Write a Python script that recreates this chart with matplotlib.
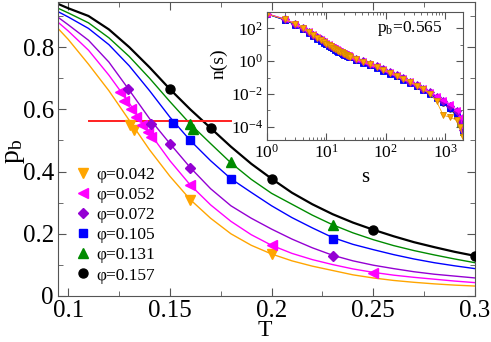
import matplotlib
matplotlib.use('Agg')
import matplotlib.pyplot as plt
from matplotlib.ticker import FixedLocator, LogLocator, LogFormatterMathtext, NullFormatter

plt.rcParams['font.family'] = ['Liberation Serif', 'DejaVu Serif']
plt.rcParams['mathtext.fontset'] = 'custom'
plt.rcParams['mathtext.rm'] = 'Liberation Serif'
plt.rcParams['mathtext.it'] = 'Liberation Serif:italic'
plt.rcParams['axes.unicode_minus'] = False

# ---- main panel: p_b vs T ----
phi_labels = ['φ=0.042', 'φ=0.052', 'φ=0.072', 'φ=0.105', 'φ=0.131', 'φ=0.157']
colors = ['#ffa500', '#ff00ff', '#9400d3', '#0000ff', '#008b00', '#000000']
markers = ['v', '<', 'D', 's', '^', 'o']
msizes = [7, 7, 5, 5.5, 6.5, 6.5]

# fitted curves, read at these temperatures
T_fit = [0.095, 0.10, 0.11, 0.12, 0.13, 0.14, 0.15, 0.16, 0.17, 0.18, 0.19,
         0.20, 0.21, 0.22, 0.23, 0.24, 0.25, 0.26, 0.27, 0.28, 0.29, 0.30]
fit_042 = [0.86, 0.825, 0.745, 0.66, 0.565, 0.47, 0.385, 0.31, 0.25, 0.20, 0.163,
           0.135, 0.113, 0.096, 0.082, 0.068, 0.058, 0.050, 0.044, 0.039, 0.035, 0.032]
fit_052 = [0.88, 0.852, 0.79, 0.71, 0.62, 0.525, 0.435, 0.357, 0.293, 0.24, 0.197,
           0.163, 0.137, 0.117, 0.101, 0.087, 0.076, 0.067, 0.060, 0.054, 0.048, 0.043]
fit_072 = [0.896, 0.872, 0.822, 0.752, 0.662, 0.57, 0.49, 0.413, 0.345, 0.29, 0.25,
           0.215, 0.183, 0.155, 0.131, 0.113, 0.099, 0.088, 0.078, 0.07, 0.064, 0.058]
fit_105 = [0.914, 0.897, 0.86, 0.808, 0.74, 0.66, 0.575, 0.50, 0.435, 0.377, 0.333,
           0.29, 0.252, 0.219, 0.188, 0.166, 0.149, 0.133, 0.119, 0.107, 0.097, 0.088]
fit_131 = [0.925, 0.91, 0.878, 0.83, 0.77, 0.70, 0.625, 0.553, 0.49, 0.428, 0.375,
           0.33, 0.295, 0.26, 0.229, 0.203, 0.181, 0.162, 0.146, 0.132, 0.119, 0.107]
fit_157 = [0.939, 0.925, 0.90, 0.857, 0.80, 0.735, 0.665, 0.60, 0.54, 0.48, 0.425,
           0.377, 0.332, 0.295, 0.263, 0.236, 0.213, 0.192, 0.173, 0.157, 0.142, 0.129]
fits = [fit_042, fit_052, fit_072, fit_105, fit_131, fit_157]

# simulation points
T_042 = [0.1305, 0.1325, 0.16, 0.20]
pb_042 = [0.55, 0.535, 0.31, 0.135]
T_052 = [0.1255, 0.1275, 0.131, 0.1335, 0.1365, 0.139, 0.1405, 0.16, 0.20, 0.25]
pb_052 = [0.655, 0.628, 0.60, 0.575, 0.55, 0.528, 0.51, 0.357, 0.163, 0.074]
T_072 = [0.1295, 0.1405, 0.1503, 0.16, 0.23]
pb_072 = [0.665, 0.552, 0.49, 0.41, 0.128]
T_105 = [0.1515, 0.16, 0.18, 0.23]
pb_105 = [0.555, 0.50, 0.377, 0.184]
T_131 = [0.16, 0.1615, 0.18, 0.23]
pb_131 = [0.552, 0.537, 0.432, 0.229]
T_157 = [0.15, 0.17, 0.20, 0.25, 0.30]
pb_157 = [0.665, 0.541, 0.377, 0.213, 0.129]
T_pts = [T_042, T_052, T_072, T_105, T_131, T_157]
pb_pts = [pb_042, pb_052, pb_072, pb_105, pb_131, pb_157]

pc_T = [0.11, 0.18]
pc_value = 0.563

x_ticks = [0.1, 0.15, 0.2, 0.25, 0.3]
x_ticklabels = ['0.1', '0.15', '0.2', '0.25', '0.3']
y_ticks = [0, 0.2, 0.4, 0.6, 0.8]
y_ticklabels = ['0', '0.2', '0.4', '0.6', '0.8']

# ---- inset: n(s) at p_b = 0.565 ----
s_vals = [1, 2, 3, 4, 5, 6, 7, 8, 9, 10, 11, 12, 13, 14, 15, 16, 17, 18, 19, 20,
          21, 22, 23, 24, 25, 32, 42, 54, 70, 91, 118, 152, 197, 255, 331, 428,
          555, 718, 930, 1205, 1560, 1800, 2000]
logn_042 = [2.88, 2.55, 2.26, 2.0, 1.78, 1.59, 1.43, 1.30, 1.18, 1.07, 0.98, 0.90,
            0.83, 0.76, 0.70, 0.64, 0.59, 0.54, 0.49, 0.45, 0.41, 0.37, 0.34, 0.31,
            0.28, 0.12, -0.03, -0.19, -0.35, -0.52, -0.70, -0.88, -1.07, -1.27,
            -1.48, -1.70, -1.97, -2.45, -3.3, -3.4, -3.6, -4.0, -4.6]
logn_052 = [2.9, 2.58, 2.29, 2.04, 1.82, 1.63, 1.47, 1.34, 1.22, 1.11, 1.02, 0.94,
            0.87, 0.80, 0.74, 0.68, 0.63, 0.58, 0.53, 0.49, 0.45, 0.41, 0.38, 0.35,
            0.32, 0.16, 0.01, -0.15, -0.31, -0.48, -0.66, -0.84, -1.03, -1.23,
            -1.44, -1.65, -1.88, -2.10, -2.35, -2.60, -2.95, -3.4, -4.0]
logn_072 = [2.89, 2.57, 2.28, 2.03, 1.81, 1.62, 1.46, 1.33, 1.21, 1.10, 1.01, 0.93,
            0.86, 0.79, 0.73, 0.67, 0.62, 0.57, 0.52, 0.48, 0.44, 0.40, 0.37, 0.34,
            0.31, 0.15, 0.0, -0.16, -0.32, -0.49, -0.67, -0.85, -1.04, -1.24,
            -1.45, -1.67, -1.90, -2.15, -2.40, -2.70, -3.05, -3.6, -4.2]
logn_105 = [2.87, 2.50, 2.21, 1.95, 1.73, 1.54, 1.38, 1.25, 1.13, 1.02, 0.93, 0.85,
            0.78, 0.71, 0.65, 0.59, 0.54, 0.49, 0.44, 0.40, 0.36, 0.32, 0.29, 0.26,
            0.23, 0.07, -0.08, -0.24, -0.40, -0.57, -0.75, -0.93, -1.12, -1.32,
            -1.53, -1.75, -1.97, -2.22, -2.50, -2.82, -3.25, -3.65, -4.2]
logn_131 = [2.88, 2.53, 2.24, 1.98, 1.76, 1.57, 1.41, 1.28, 1.16, 1.05, 0.96, 0.88,
            0.81, 0.74, 0.68, 0.62, 0.57, 0.52, 0.47, 0.43, 0.39, 0.35, 0.32, 0.29,
            0.26, 0.10, -0.05, -0.21, -0.37, -0.54, -0.72, -0.90, -1.09, -1.29,
            -1.50, -1.72, -1.95, -2.20, -2.50, -2.85, -3.30, -3.75, -4.3]
logn_157 = [2.88, 2.52, 2.23, 1.97, 1.75, 1.56, 1.40, 1.27, 1.15, 1.04, 0.95, 0.87,
            0.80, 0.73, 0.67, 0.61, 0.56, 0.51, 0.46, 0.42, 0.38, 0.34, 0.31, 0.28,
            0.25, 0.09, -0.06, -0.22, -0.38, -0.55, -0.73, -0.91, -1.10, -1.30,
            -1.51, -1.73, -1.96, -2.25, -2.55, -2.90, -3.35, -3.8, -4.4]
logn_all = [logn_042, logn_052, logn_072, logn_105, logn_131, logn_157]

fig = plt.figure(figsize=(4.91, 3.42), dpi=100)
ax = fig.add_axes([58 / 491, 1 - 296 / 342, 417 / 491, 294 / 342])

for i in range(6):
    lw = 1.6 if i == 5 else 1.0
    ax.plot(T_fit, fits[i], color=colors[i], lw=lw, zorder=2)
ax.plot(pc_T, [pc_value, pc_value], color='#ff2020', lw=1.4, zorder=3)
handles = []
for i in range(6):
    h, = ax.plot(T_pts[i], pb_pts[i], ls='none', marker=markers[i], ms=msizes[i],
                 color=colors[i], mec=colors[i], zorder=4)
    handles.append(h)

ax.set_xlim(0.095, 0.3)
ax.set_ylim(0, 0.945)
ax.xaxis.set_major_locator(FixedLocator(x_ticks))
ax.set_xticklabels(x_ticklabels)
ax.xaxis.set_minor_locator(FixedLocator([0.125, 0.175, 0.225, 0.275]))
ax.yaxis.set_major_locator(FixedLocator(y_ticks))
ax.set_yticklabels(y_ticklabels)
ax.yaxis.set_minor_locator(FixedLocator([0.1, 0.3, 0.5, 0.7, 0.9]))
ax.tick_params(which='both', direction='in', top=True, right=True, color='#555555')
ax.tick_params(which='major', length=6, labelsize=18, pad=3)
ax.tick_params(which='minor', length=3.5)
for sp in ax.spines.values():
    sp.set_color('#555555')
ax.set_xlabel('T', fontsize=17)
ax.xaxis.set_label_coords(0.495, -0.082)
ax.set_ylabel(r'$\mathrm{p_b}$', fontsize=20)
ax.yaxis.set_label_coords(-0.075, 0.49)

ax.legend(handles, phi_labels, loc='upper left', bbox_to_anchor=(0.038, 0.44),
          frameon=False, fontsize=12.5, handlelength=1.0, handletextpad=0.3,
          labelspacing=0.23, borderpad=0, borderaxespad=0)

# inset, phi=0.042 drawn last so it lies on top
axi = fig.add_axes([267 / 491, 1 - 140 / 342, 196 / 491, 128 / 342])
for i in range(5, -1, -1):
    n_vals = [10 ** v for v in logn_all[i]]
    axi.plot(s_vals, n_vals, color=colors[i], lw=0.6, marker=markers[i], ms=3.8,
             mec=colors[i] if i != 0 else '#d98a00', mew=0.6)
axi.set_xscale('log')
axi.set_yscale('log')
axi.set_xlim(1, 2000)
axi.set_ylim(10 ** -4.8, 10 ** 3.0)
axi.xaxis.set_major_locator(LogLocator(base=10, numticks=10))
axi.xaxis.set_minor_locator(LogLocator(base=10, subs=range(2, 10), numticks=20))
axi.xaxis.set_minor_formatter(NullFormatter())
axi.yaxis.set_major_locator(FixedLocator([1e-4, 1e-2, 1, 1e2]))
axi.yaxis.set_minor_locator(FixedLocator([1e-3, 1e-1, 10]))
axi.yaxis.set_major_formatter(LogFormatterMathtext())
axi.yaxis.set_minor_formatter(NullFormatter())
axi.tick_params(which='both', direction='in', top=True, right=True, color='#555555')
axi.tick_params(which='major', length=5, labelsize=12.5, pad=3)
axi.tick_params(which='minor', length=2.5)
for sp in axi.spines.values():
    sp.set_color('#555555')
axi.set_xlabel('s', fontsize=15)
axi.xaxis.set_label_coords(0.5, -0.22)
axi.set_ylabel('n(s)', fontsize=14)
axi.yaxis.set_label_coords(-0.2, 0.6)
axi.text(0.56, 0.84, r'$\mathrm{p_b}$=0.565', transform=axi.transAxes, fontsize=12.5)

fig.savefig('out.png', dpi=100)
